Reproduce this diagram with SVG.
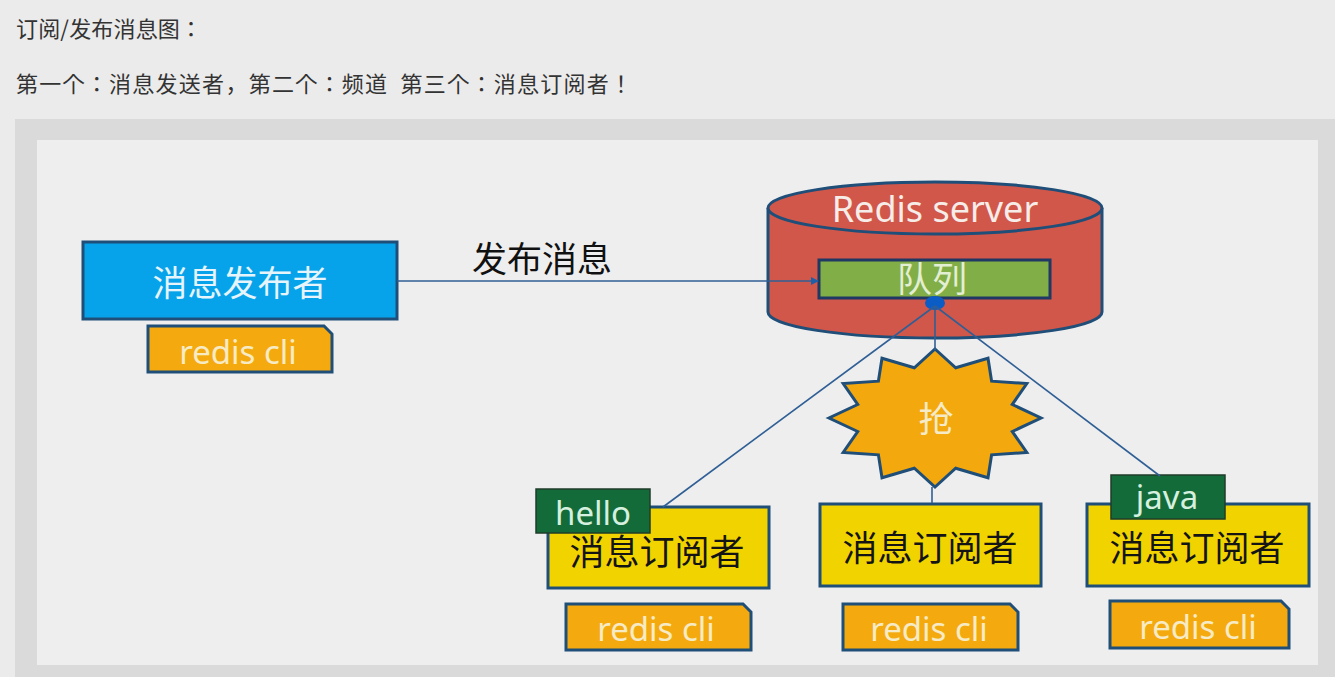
<svg xmlns="http://www.w3.org/2000/svg" width="1335" height="677" viewBox="0 0 1335 677">
<defs>
<style>
.hdr{font-family:"Noto Sans CJK JP","Noto Sans CJK SC",sans-serif;font-size:22px;fill:#333333}
.cn{font-family:"Noto Sans CJK SC",sans-serif;font-size:35px}
.lat{font-family:"Noto Sans","Noto Sans CJK SC",sans-serif}
.edge{stroke:#2f5f95;stroke-width:1.6;fill:none}
.box{stroke:#1f4e79;stroke-width:3}
.tag{fill:#f4aa0f;stroke:#1f4e79;stroke-width:3}
.cli{font-family:"Noto Sans",sans-serif;font-size:33px;fill:#f6ebc4;text-anchor:middle}
.green{fill:#146b3a;stroke:#1f3d2a;stroke-width:1.5}
</style>
<marker id="arr" markerWidth="8" markerHeight="8" refX="7" refY="4" orient="auto" markerUnits="userSpaceOnUse">
<path d="M0,0 L8,4 L0,8 Z" fill="#1f5fa8"/>
</marker>
</defs>
<rect width="1335" height="677" fill="#ebebeb"/>
<text class="hdr" x="16" y="37" textLength="186" lengthAdjust="spacing">订阅/发布消息图：</text>
<text class="hdr" x="16" y="92" xml:space="preserve" textLength="616" lengthAdjust="spacing">第一个：消息发送者，第二个：频道  第三个：消息订阅者！</text>
<rect x="15" y="119" width="1320" height="558" fill="#dadada"/>
<rect x="37" y="140" width="1281" height="525" fill="#eeeeee"/>

<g id="publisher">
<rect class="box" x="83" y="242" width="314" height="77" fill="#07a3ea"/>
<text class="cn" x="240" y="296" text-anchor="middle" fill="#e6f4fb">消息发布者</text>
<path class="tag" d="M148,326 H324 L332,334 V372 H148 Z"/>
<text class="cli" x="238" y="364">redis cli</text>
</g>

<g id="redis-server">
<path class="box" fill="#d1574a" d="M768,208 V312 A167,26 0 0 0 1102,312 V208"/>
<ellipse class="box" cx="935" cy="208" rx="167" ry="26" fill="#d1574a"/>
<text class="lat" x="935" y="222" font-size="36" fill="#f6ece8" text-anchor="middle">Redis server</text>
<rect x="819" y="260" width="231" height="38" fill="#82ae48" stroke="#1f3864" stroke-width="3"/>
<text class="cn" x="932" y="292" font-size="33" text-anchor="middle" fill="#e2efd2">队列</text>
<ellipse cx="935" cy="303" rx="10" ry="7" fill="#0b5cc5"/>
</g>

<g id="grab">
<polygon class="box" fill="#f3a80d" points="935,349 955.7,367.8 988,358.2 991.6,381.2 1026.8,383.5 1012.3,404.5 1041,418 1012.3,431.5 1026.8,452.5 991.6,454.8 988,477.8 955.7,468.2 935,487 914.3,468.2 882,477.8 878.4,454.8 843.2,452.5 857.7,431.5 829,418 857.7,404.5 843.2,383.5 878.4,381.2 882,358.2 914.3,367.8"/>
<text class="cn" x="936" y="432" font-size="34" text-anchor="middle" fill="#f6ebc8">抢</text>
</g>

<g id="subscriber1">
<rect class="box" x="548" y="507" width="221" height="81" fill="#f1d300"/>
<text class="cn" x="657" y="565" text-anchor="middle" fill="#141414">消息订阅者</text>
<rect class="green" x="536" y="489" width="114" height="44"/>
<text class="lat" x="593" y="525" font-size="33" text-anchor="middle" fill="#d6f0df">hello</text>
<path class="tag" d="M566,604 H743 L751,612 V650 H566 Z"/>
<text class="cli" x="656" y="641">redis cli</text>
</g>

<g id="subscriber2">
<rect class="box" x="820" y="504" width="221" height="82" fill="#f1d300"/>
<text class="cn" x="930" y="561" text-anchor="middle" fill="#141414">消息订阅者</text>
<path class="tag" d="M843,604 H1010 L1018,612 V650 H843 Z"/>
<text class="cli" x="929" y="641">redis cli</text>
</g>

<g id="subscriber3">
<rect class="box" x="1087" y="504" width="222" height="82" fill="#f1d300"/>
<text class="cn" x="1197" y="561" text-anchor="middle" fill="#141414">消息订阅者</text>
<rect class="green" x="1111" y="475" width="114" height="44"/>
<text class="lat" x="1167" y="509" font-size="33" text-anchor="middle" fill="#d6f0df">java</text>
<path class="tag" d="M1110,601 H1281 L1289,609 V648 H1110 Z"/>
<text class="cli" x="1198" y="639">redis cli</text>
</g>

<g id="connectors">
<line class="edge" x1="397" y1="281" x2="818" y2="281" marker-end="url(#arr)"/>
<text class="cn" x="542" y="272" text-anchor="middle" fill="#111">发布消息</text>
<line class="edge" x1="935" y1="306" x2="663" y2="507"/>
<line class="edge" x1="935" y1="306" x2="1160" y2="476"/>
<line class="edge" x1="935" y1="306" x2="935" y2="350"/>
<line class="edge" x1="932" y1="487" x2="932" y2="503"/>
</g>
</svg>
